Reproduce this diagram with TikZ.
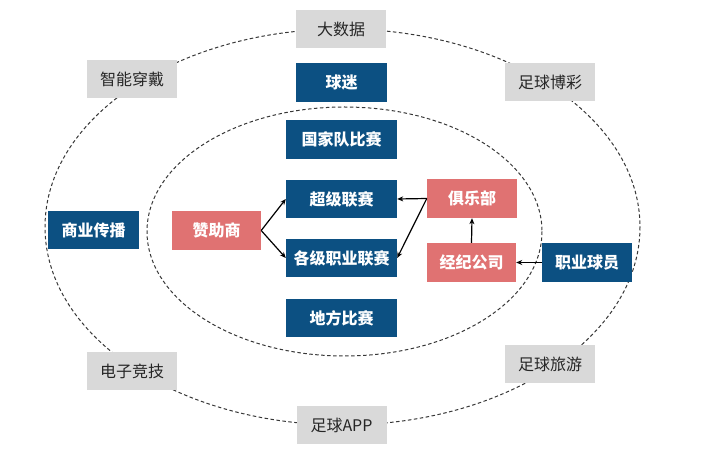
\documentclass[tikz,border=0pt]{standalone}
\usepackage{fontspec}
\setmainfont{Noto Sans CJK SC}
\usetikzlibrary{arrows.meta}
\definecolor{navy}{RGB}{12,80,130}
\definecolor{pinkbox}{RGB}{224,114,114}
\definecolor{graybox}{RGB}{217,217,217}
\definecolor{graytext}{RGB}{38,38,38}
\definecolor{ringc}{RGB}{55,55,55}
\tikzset{
  base/.style={minimum height=38pt, inner sep=0pt, font=\fontsize{16}{19}\selectfont},
  navybox/.style={base, fill=navy, text=white, font=\fontsize{16}{19}\selectfont\bfseries},
  pinkb/.style={base, fill=pinkbox, text=white, font=\fontsize{16}{19}\selectfont\bfseries},
  grayb/.style={base, fill=graybox, text=graytext, minimum width=90pt},
  ring/.style={draw=ringc, line width=1pt, dash pattern=on 3.5pt off 2.5pt},
  arr/.style={draw=black, line width=1.2pt, -{Stealth[length=6pt,width=5pt]}}
}
\begin{document}
\begin{tikzpicture}[x=1pt,y=-1pt]
\useasboundingbox (0,0) rectangle (718,454);
% rings
\draw[ring] (342.5,227) ellipse [x radius=297.5, y radius=198];
\draw[ring] (344.5,231.5) ellipse [x radius=197.5, y radius=124.5];
% outer gray boxes
\node[grayb] (bigdata) at (341,29) {大数据};
\node[grayb] (wear) at (132,79) {智能穿戴};
\node[grayb] (bet) at (550,82.5) {足球博彩};
\node[grayb] (esport) at (132,371) {电子竞技};
\node[grayb] (app) at (341.5,425) {足球APP};
\node[grayb] (travel) at (550,364.5) {足球旅游};
% navy boxes
\node[navybox, minimum width=91pt] (media) at (93.5,230.5) {商业传播};
\node[navybox, minimum width=91pt, minimum height=39pt] (fans) at (341.5,82.5) {球迷};
\node[navybox, minimum width=111pt, minimum height=39pt] (national) at (341.5,139.5) {国家队比赛};
\node[navybox, minimum width=111pt] (super) at (341.5,199) {超级联赛};
\node[navybox, minimum width=111pt] (leagues) at (341.5,258) {各级职业联赛};
\node[navybox, minimum width=111pt] (local) at (341.5,318) {地方比赛};
\node[navybox, minimum width=90pt, minimum height=39pt] (player) at (587,262.5) {职业球员};
% pink boxes
\node[pinkb, minimum width=89pt, minimum height=39pt] (sponsor) at (216.5,230.5) {赞助商};
\node[pinkb, minimum width=90pt, minimum height=39pt] (club) at (472,198.5) {俱乐部};
\node[pinkb, minimum width=89pt, minimum height=39pt] (agent) at (471.5,262.5) {经纪公司};
% connectors
\draw[arr] (sponsor.east) -- (super.west);
\draw[arr] (sponsor.east) -- (leagues.west);
\draw[arr] (club.west) -- (super.east);
\draw[arr] (club.west) -- (leagues.east);
\draw[arr] (agent.north) -- (club.south);
\draw[arr] (player.west) -- (agent.east);
\end{tikzpicture}
\end{document}
